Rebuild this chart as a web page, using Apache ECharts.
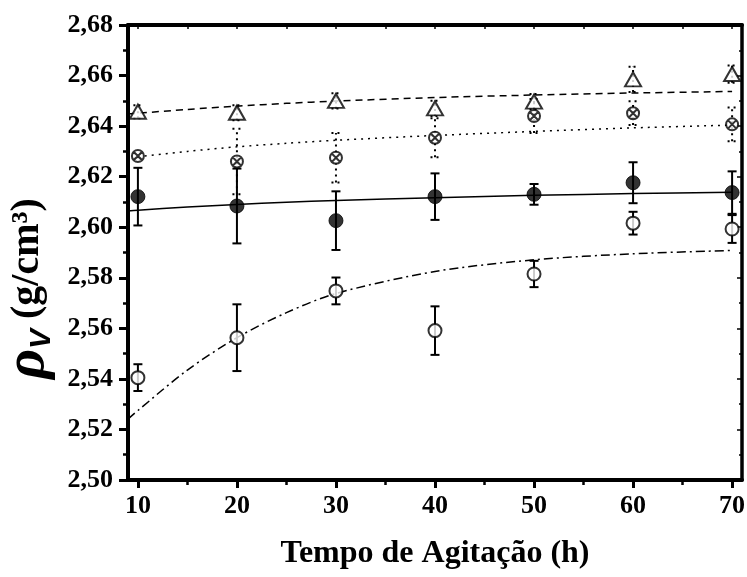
<!DOCTYPE html>
<html>
<head>
<meta charset="utf-8">
<script src="https://cdn.jsdelivr.net/npm/echarts@6/dist/echarts.min.js"></script>
<style>
  html, body { margin: 0; padding: 0; background: #fff; }
  #Chart { width: 747px; height: 577px; }
</style>
</head>
<body>
<div id="Chart"></div>
<script>
// measured points (h, g/cm3)
var times = [10, 20, 30, 40, 50, 60, 70];
var triMean = [2.6457, 2.6453, 2.6500, 2.6470, 2.6497, 2.6585, 2.6606];
var triErr = [0.0026, 0.0030, 0.0030, 0.0030, 0.0030, 0.0050, 0.0034];
var crossMean = [2.6282, 2.6260, 2.6275, 2.6354, 2.6440, 2.6451, 2.6407];
var crossErr = [0.0010, 0.0130, 0.0098, 0.0077, 0.0067, 0.0047, 0.0067];
var fullMean = [2.6121, 2.6084, 2.6026, 2.6121, 2.6130, 2.6176, 2.6137];
var fullErr = [0.0114, 0.0148, 0.0116, 0.0092, 0.0041, 0.0081, 0.0084];
var openMean = [2.5405, 2.5563, 2.5748, 2.5591, 2.5815, 2.6016, 2.5993];
var openErr = [0.0053, 0.0132, 0.0053, 0.0096, 0.0052, 0.0045, 0.0055];

// fitted curves
var fitX = [9, 10, 15, 20, 25, 30, 40, 50, 60, 70];
var fitDashed = [2.6448, 2.6451, 2.6466, 2.6479, 2.6490, 2.6499, 2.6513, 2.6523, 2.6531, 2.6537];
var fitSolid = [2.6064, 2.6067, 2.6080, 2.6090, 2.6099, 2.6106, 2.6117, 2.6126, 2.6133, 2.6138];
var fitDashDot = [2.5241, 2.5275, 2.5435, 2.5563, 2.5662, 2.5738, 2.5825, 2.5871, 2.5895, 2.5908];
var dotX = [10, 15, 20, 25, 30, 40, 50, 60, 70];
var fitDotted = [2.6279, 2.6300, 2.6318, 2.6332, 2.6344, 2.6363, 2.6379, 2.6393, 2.6404];

var xLabels = [10, 20, 30, 40, 50, 60, 70];
var xMinor = [15, 25, 35, 45, 55, 65];
var xAll = [10, 15, 20, 25, 30, 35, 40, 45, 50, 55, 60, 65, 70];

var font = 'Liberation Serif';
var myChart = echarts.init(document.getElementById('Chart'), null, {renderer: 'canvas'});

function pairs(xs, ys) {
    var out = [];
    for (var i = 0; i < xs.length; i++) out.push([xs[i], ys[i]]);
    return out;
}
function errData(mean, err) {
    var out = [];
    for (var i = 0; i < times.length; i++) out.push([times[i], mean[i] - err[i], mean[i] + err[i]]);
    return out;
}
function errSeries(mean, err, dash) {
    return {
        type: 'custom',
        z: 3,
        renderItem: function (params, api) {
            var lo = api.coord([api.value(0), api.value(1)]);
            var hi = api.coord([api.value(0), api.value(2)]);
            var w = 4.5;
            var style = {stroke: '#000', lineWidth: 2, lineDash: dash};
            return {
                type: 'group',
                children: [
                    {type: 'line', shape: {x1: lo[0], y1: lo[1], x2: hi[0], y2: hi[1]}, style: style},
                    {type: 'line', shape: {x1: lo[0] - w, y1: lo[1], x2: lo[0] + w, y2: lo[1]}, style: style},
                    {type: 'line', shape: {x1: hi[0] - w, y1: hi[1], x2: hi[0] + w, y2: hi[1]}, style: style}
                ]
            };
        },
        data: errData(mean, err)
    };
}
function fitSeries(xs, ys, dash) {
    return {
        type: 'line',
        z: 2,
        smooth: 0.3,
        showSymbol: false,
        lineStyle: {color: '#000', width: 1.5, type: dash},
        data: pairs(xs, ys)
    };
}

var crossPath = 'path://M10,0A10,10,0,1,1,10,20A10,10,0,1,1,10,0Z' +
    'M2.93,2.93L17.07,17.07M17.07,2.93L2.93,17.07';

option = {
    backgroundColor: '#fff',
    animation: false,
    grid: {left: 128, right: 5, top: 25, bottom: 97, outerBoundsMode: 'none', containLabel: false},
    xAxis: [{
        type: 'value', position: 'bottom', min: 9, max: 71,
        axisLine: {lineStyle: {color: '#000', width: 4}},
        axisTick: {customValues: xLabels, length: 8, lineStyle: {color: '#000', width: 3}},
        axisLabel: {customValues: xLabels, margin: 13, color: '#000',
            fontFamily: font, fontWeight: 'bold', fontSize: 26},
        splitLine: {show: false},
        name: 'Tempo de Agitação (h)', nameLocation: 'middle', nameGap: 58,
        nameTextStyle: {color: '#000', fontFamily: font, fontWeight: 'bold', fontSize: 32}
    }, {
        type: 'value', position: 'bottom', min: 9, max: 71,
        axisLine: {show: false},
        axisTick: {customValues: xMinor, length: 5, lineStyle: {color: '#000', width: 2.5}},
        axisLabel: {show: false},
        splitLine: {show: false}
    }, {
        type: 'value', position: 'top', min: 9, max: 71,
        axisLine: {lineStyle: {color: '#000', width: 4}},
        axisTick: {customValues: xAll, inside: true, length: 4, lineStyle: {color: '#000', width: 1.5}},
        axisLabel: {show: false},
        splitLine: {show: false}
    }],
    yAxis: [{
        type: 'value', position: 'left', min: 2.5, max: 2.68, interval: 0.02,
        axisLine: {show: true, lineStyle: {color: '#000', width: 4}},
        axisTick: {show: true, length: 9, lineStyle: {color: '#000', width: 3}},
        minorTick: {show: true, splitNumber: 2, length: 5, lineStyle: {color: '#000', width: 2.5}},
        axisLabel: {margin: 15, color: '#000', fontFamily: font, fontWeight: 'bold', fontSize: 26,
            formatter: function (v) { return v.toFixed(2).replace('.', ','); }},
        splitLine: {show: false},
        name: '{r|ρ}{v|V}{u| (g/cm³)}', nameLocation: 'middle', nameGap: 57, nameRotate: 90,
        nameTextStyle: {
            color: '#000',
            padding: [0, 72, 0, 0],
            rich: {
                r: {fontFamily: font, fontStyle: 'italic', fontWeight: 'bold', fontSize: 58, color: '#000'},
                v: {fontFamily: 'Liberation Sans', fontStyle: 'italic', fontWeight: 'bold', fontSize: 30,
                    color: '#000', verticalAlign: 'bottom', padding: [18, 0, 0, 0]},
                u: {fontFamily: font, fontWeight: 'bold', fontSize: 40, color: '#000'}
            }
        }
    }, {
        type: 'value', position: 'right', min: 2.5, max: 2.68, interval: 0.02,
        axisLine: {show: true, lineStyle: {color: '#000', width: 3.5}},
        axisTick: {show: true, inside: true, length: 5, lineStyle: {color: '#000', width: 1.5}},
        minorTick: {show: true, splitNumber: 2, length: 3, lineStyle: {color: '#000', width: 1.5}},
        axisLabel: {show: false},
        splitLine: {show: false}
    }],
    series: [
        fitSeries(fitX, fitDashed, [7, 5]),
        fitSeries(dotX, fitDotted, [2, 5]),
        fitSeries(fitX, fitSolid, 'solid'),
        fitSeries(fitX, fitDashDot, [9, 4, 2, 4]),
        errSeries(triMean, triErr, [2, 3]),
        errSeries(crossMean, crossErr, [2, 4]),
        errSeries(fullMean, fullErr, null),
        errSeries(openMean, openErr, null),
        {
            type: 'scatter', z: 5, symbol: 'triangle', symbolSize: [16, 14],
            itemStyle: {color: '#fff', borderColor: '#000', borderWidth: 2},
            data: pairs(times, triMean)
        },
        {
            type: 'scatter', z: 5, symbol: crossPath, symbolSize: 12,
            itemStyle: {color: '#fff', borderColor: '#000', borderWidth: 2},
            data: pairs(times, crossMean)
        },
        {
            type: 'scatter', z: 5, symbol: 'circle', symbolSize: 14,
            itemStyle: {color: '#000', borderColor: '#000', borderWidth: 1},
            data: pairs(times, fullMean)
        },
        {
            type: 'scatter', z: 5, symbol: 'circle', symbolSize: 13,
            itemStyle: {color: '#fff', borderColor: '#000', borderWidth: 2},
            data: pairs(times, openMean)
        }
    ]
};

myChart.setOption(option);
</script>
</body>
</html>
